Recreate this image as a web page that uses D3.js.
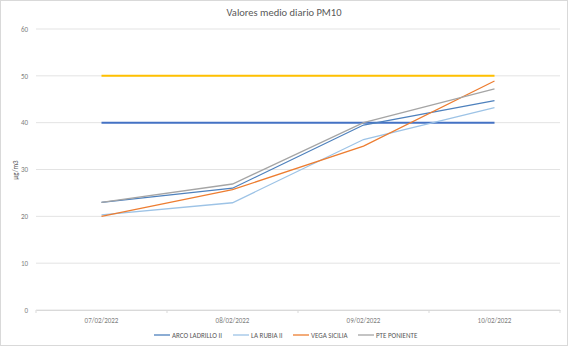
<!DOCTYPE html>
<html><head><meta charset="utf-8">
<script src="https://cdn.jsdelivr.net/npm/d3@7"></script>
<style>body{margin:0;background:#fff;font-family:Calibri,"Liberation Sans","Open Sans",sans-serif;}</style>
</head><body>
<script>
const categories = ["07/02/2022","08/02/2022","09/02/2022","10/02/2022"];
const seriesNames = ["ARCO LADRILLO II","LA RUBIA II","VEGA SICILIA","PTE PONIENTE"];
const arco = [23, 26, 39.5, 44.7];
const rubia = [20.3, 22.9, 36.4, 43.2];
const vega = [20, 25.7, 35, 48.9];
const poniente = [23, 26.9, 40, 47.2];
const limit50 = [50, 50, 50, 50];
const limit40 = [40, 40, 40, 40];
const yTicks = [0,10,20,30,40,50,60];
const colors = ["#4E81BD","#9DC3E6","#ED7D31","#A5A5A5"];

const W=569,H=347;
const svg=d3.select("body").append("svg").attr("width",W).attr("height",H);
svg.append("rect").attr("x",0.5).attr("y",0.5).attr("width",W-2).attr("height",H-2)
  .attr("fill","#fff").attr("stroke","#d9d9d9");

const x=d3.scaleBand().domain(categories).range([36,560]);
const y=d3.scaleLinear().domain([0,60]).range([310,29]);

svg.append("g").selectAll("line").data(yTicks).join("line")
  .attr("x1",36).attr("x2",560).attr("y1",d=>y(d)).attr("y2",d=>y(d))
  .attr("stroke","#e3e3e3").attr("stroke-width",1);

const ya=svg.append("g").attr("transform","translate(36,0)")
  .call(d3.axisLeft(y).tickValues(yTicks).tickSize(0).tickPadding(8));
ya.select(".domain").remove();
ya.selectAll("text").attr("fill","#7f7f7f").style("font-size","7px").style("font-family","Calibri,'Liberation Sans',sans-serif");

const xa=svg.append("g").attr("transform","translate(0,310)")
  .call(d3.axisBottom(x).tickSize(0).tickPadding(8));
xa.select(".domain").attr("stroke","#d9d9d9");
xa.selectAll("text").attr("fill","#7f7f7f").style("font-size","7px").style("font-family","Calibri,'Liberation Sans',sans-serif");
svg.append("g").selectAll("line").data(categories.concat(["end"])).join("line")
  .attr("x1",(d,i)=>36+i*x.step()).attr("x2",(d,i)=>36+i*x.step())
  .attr("y1",310).attr("y2",313).attr("stroke","#d9d9d9");

const line=d3.line().x((d,i)=>x(categories[i])+x.bandwidth()/2).y(d=>y(d));

svg.append("path").datum(limit50).attr("d",line).attr("fill","none").attr("stroke","#FFC000").attr("stroke-width",2);
svg.append("path").datum(limit40).attr("d",line).attr("fill","none").attr("stroke","#4472C4").attr("stroke-width",2);

const series=[arco,rubia,vega,poniente];
series.forEach((s,i)=>{
  svg.append("path").datum(s).attr("d",line).attr("fill","none")
    .attr("stroke",colors[i]).attr("stroke-width",1.3);
});

svg.append("text").attr("x",284).attr("y",16).attr("text-anchor","middle")
  .attr("fill","#595959").style("font-size","10.5px").text("Valores medio diario PM10");

svg.append("text").attr("transform","translate(18,170) rotate(-90)").attr("text-anchor","middle")
  .attr("fill","#595959").style("font-size","7px").text("µg/m3");

const legX=[154,233,293,358];
const lg=svg.append("g").selectAll("g").data(seriesNames).join("g")
  .attr("transform",(d,i)=>`translate(${legX[i]},335)`);
lg.append("line").attr("x1",0).attr("x2",16).attr("y1",0).attr("y2",0)
  .attr("stroke",(d,i)=>colors[i]).attr("stroke-width",1.3);
lg.append("text").attr("x",18).attr("y",2.5).attr("fill","#595959")
  .style("font-size","7px").text(d=>d);
</script>
</body></html>
